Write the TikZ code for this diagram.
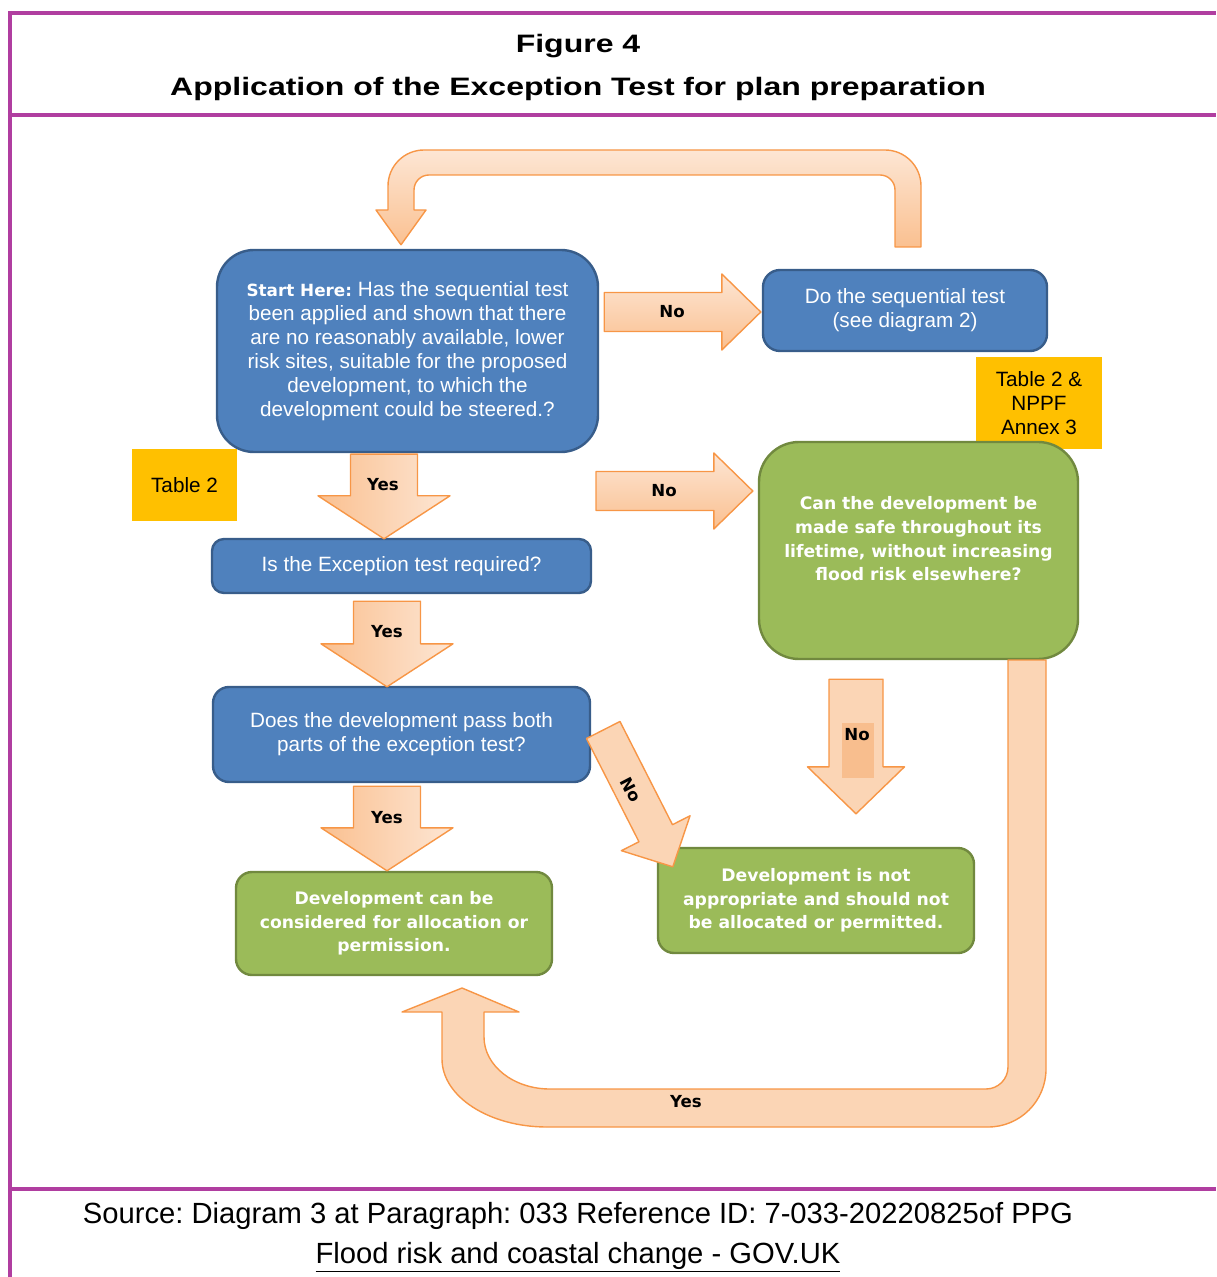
\documentclass[tikz,border=0pt]{standalone}
\usepackage{fontspec}
\setmainfont{Liberation Sans}
\newfontfamily\labelfont{DejaVu Sans}
\newfontfamily\headfont[FakeStretch=1.27]{Liberation Sans}
\usetikzlibrary{calc}
\frenchspacing

\definecolor{framepurple}{RGB}{176,62,160}
\definecolor{boxblue}{RGB}{79,129,189}
\definecolor{boxblueline}{RGB}{56,93,138}
\definecolor{boxgreen}{RGB}{155,187,89}
\definecolor{boxgreenline}{RGB}{113,137,63}
\definecolor{tableyellow}{RGB}{255,192,0}
\definecolor{arrowline}{RGB}{247,150,70}
\definecolor{arrowdark}{RGB}{250,192,144}
\definecolor{arrowlight}{RGB}{253,230,212}
\definecolor{arrowflat}{RGB}{251,213,181}
\definecolor{arrowpatch}{RGB}{248,190,142}

% block arrow from start to tip: shaft half width, head half width, head length
\tikzset{blockarrow/.style n args={3}{to path={
  let \p1=(\tikztostart), \p2=(\tikztotarget),
      \n1={atan2(\y2-\y1,\x2-\x1)},
      \n2={veclen(\x2-\x1,\y2-\y1)-#3}
  in ($(\p1)+(\n1+90:#1)$)
  -- ($(\p1)+(\n1:\n2)+(\n1+90:#1)$)
  -- ($(\p1)+(\n1:\n2)+(\n1+90:#2)$)
  -- (\p2)
  -- ($(\p1)+(\n1:\n2)+(\n1-90:#2)$)
  -- ($(\p1)+(\n1:\n2)+(\n1-90:#1)$)
  -- ($(\p1)+(\n1-90:#1)$)
  -- cycle}}}

\begin{document}
\begin{tikzpicture}[x=0.5pt, y=0.5pt]
\tikzstyle{question} = [rectangle, draw=boxblueline, fill=boxblue, line width=1.2pt, text=white, align=center, inner sep=0pt, font=\fontsize{10.35}{12}\selectfont]
\tikzstyle{outcome} = [rectangle, draw=boxgreenline, fill=boxgreen, line width=1.2pt, text=white, align=center, inner sep=0pt, font=\labelfont\bfseries\fontsize{8.6}{11.8}\selectfont]
\tikzstyle{tablenote} = [rectangle, fill=tableyellow, align=center, inner sep=0pt, font=\fontsize{10.35}{12}\selectfont]
\tikzstyle{answer} = [inner sep=0pt, font=\labelfont\bfseries\fontsize{8.3}{10}\selectfont]
\tikzstyle{frameline} = [draw=framepurple, line width=1.75pt]
\tikzstyle{bigarrow} = [draw=arrowline, line width=0.7pt, line join=round]
\tikzstyle{yesarrow} = [bigarrow, blockarrow={16.75pt}{33pt}{21.5pt}, left color=arrowdark, right color=arrowlight]
\tikzstyle{noarrow} = [bigarrow, blockarrow={9.75pt}{19pt}{19.5pt}, top color=arrowlight, bottom color=arrowdark]

\useasboundingbox (0,0) rectangle (1216,-1277);

% frame
\draw[frameline] (8,-13) -- (1216,-13);
\draw[frameline] (10,-115) -- (1216,-115);
\draw[frameline] (10,-1189) -- (1216,-1189);
\draw[frameline] (10,-11) -- (10,-1277);

\node (figno) [anchor=base, font=\headfont\bfseries\fontsize{12.6}{15}\selectfont] at (578,-53) {Figure 4};
\node (figtitle) [anchor=base, font=\headfont\bfseries\fontsize{12.6}{15}\selectfont] at (578,-96) {Application of the Exception Test for plan preparation};

% boxes
\node (start) [question, rounded corners=18.5pt, minimum width=190.5pt, minimum height=101pt] at (407.5,-351)
  {{\labelfont\bfseries\fontsize{8.4}{12}\selectfont Start Here:} Has the sequential test\\been applied and shown that there\\are no reasonably available, lower\\risk sites, suitable for the proposed\\development, to which the\\development could be steered.?};
\node (seq) [question, rounded corners=8.5pt, minimum width=142pt, minimum height=40.5pt] at (905,-310.5)
  {Do the sequential test\\(see diagram 2)};
\node (nppf) [tablenote, minimum width=63pt, minimum height=46pt] at (1039,-403) {Table 2 \&\\NPPF\\Annex 3};
\node (tabletwo) [tablenote, minimum width=52.5pt, minimum height=36pt] at (184.5,-485) {Table 2};
\node (safe) [outcome, rounded corners=20pt, minimum width=159.5pt, minimum height=108.5pt] at (918.5,-550.5)
  {Can the development be\\made safe throughout its\\lifetime, without increasing\\flood risk elsewhere?\\ \mbox{}};
\node (exc) [question, rounded corners=6pt, minimum width=189.5pt, minimum height=27pt] at (401.5,-566)
  {Is the Exception test required?};
\node (pass) [question, rounded corners=8pt, minimum width=188.5pt, minimum height=47.5pt] at (401.5,-734.5)
  {Does the development pass both\\parts of the exception test?};
\node (canbe) [outcome, rounded corners=8pt, minimum width=158pt, minimum height=51.5pt] at (394,-923.5)
  {Development can be\\considered for allocation or\\permission.};
\node (notok) [outcome, rounded corners=8pt, minimum width=158pt, minimum height=52.5pt] at (816,-900.5)
  {Development is not\\appropriate and should not\\be allocated or permitted.};

% straight arrows
\coordinate (nostart) at (596,-491);
\draw[yesarrow] ($(start.south)+(-23.5,-1)$) to ($(exc.north)+(-17.5,-1)$);
\draw[noarrow] ($(start.east)+(5,39)$) to ($(seq.west)+(-1,-1.5)$);
\draw[noarrow] (nostart) to ($(safe.west)+(-5,59.5)$);
\draw[yesarrow] ($(exc.south)+(-14.5,-7)$) to ($(pass.north)+(-14.5,-1)$);
\draw[yesarrow] ($(pass.south)+(-14.5,-3)$) to ($(canbe.north)+(-7,0)$);
\draw[bigarrow, fill=arrowflat, blockarrow={9.4pt}{19.25pt}{18.8pt}] ($(pass.east)+(12,4.5)$) to ($(notok.north west)+(16,-20)$);
\draw[bigarrow, fill=arrowflat, blockarrow={13.5pt}{24.25pt}{23.5pt}] ($(safe.south)+(-62.5,-19)$) to ($(notok.north)+(40,33)$);
\node (nopatch) [fill=arrowpatch, minimum width=16pt, minimum height=27.5pt, inner sep=0pt] at (858,-750.5) {};

% loop back to the start
\coordinate (seqfoot) at (895,-247);
\draw[bigarrow, top color=arrowlight, bottom color=arrowdark] (seqfoot) -- (895,-190) arc (0:90:15) -- (429,-175) arc (90:180:15)
  -- (414,-210) -- (426,-210) -- ($(start.north)+(-6.5,4)$) -- (376,-210) -- (388,-210) -- (388,-186) arc (180:90:36)
  -- (885,-150) arc (90:0:36) -- (921,-247) -- cycle;

% loop from the safe box
\coordinate (safefoot) at (1008,-660);
\draw[bigarrow, fill=arrowflat] (safefoot) -- (1008,-1067) arc (0:-90:22) -- (550,-1089) arc (-90:-180:66 and 52)
  -- (484,-1012) -- (519,-1012) -- (462,-988) -- (402,-1012) -- (442,-1012) -- (442,-1059) arc (180:270:105 and 68)
  -- (988,-1127) arc (270:360:58) -- (1046,-660) -- cycle;

% answers
\node (yesone) [answer] at (383,-485) {Yes};
\node (yestwo) [answer] at (387,-632) {Yes};
\node (yesthree) [answer] at (387,-818) {Yes};
\node (noone) [answer] at (672,-312) {No};
\node (notwo) [answer] at (664,-491) {No};
\node (nodiag) [answer, rotate=-62.5] at (631,-790) {No};
\node (nodown) [answer] at (857,-735) {No};
\node (yesloop) [answer] at (686,-1102) {Yes};

% source
\node (source) [anchor=base, font=\fontsize{14.6}{17}\selectfont] at (578,-1223) {Source: Diagram 3 at Paragraph: 033 Reference ID: 7-033-20220825of PPG};
\node (link) [anchor=base, font=\fontsize{14.6}{17}\selectfont] at (578,-1263) {\underline{Flood risk and coastal change - GOV.UK}};
\end{tikzpicture}
\end{document}
